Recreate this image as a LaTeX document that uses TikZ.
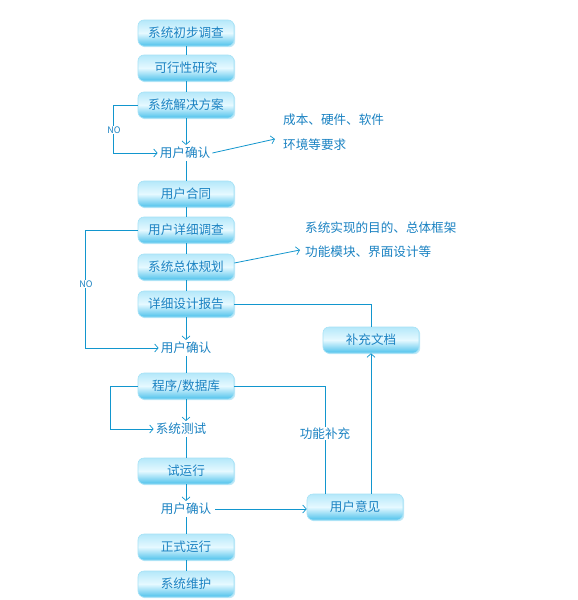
\documentclass[tikz,border=0pt]{standalone}
\usepackage{fontspec}
\setmainfont{Noto Sans CJK SC}
\usetikzlibrary{arrows.meta,shadows}
\definecolor{lnc}{HTML}{1296CE}
\definecolor{txc}{HTML}{1A82C2}
\definecolor{boxtop}{HTML}{B4E8FA}
\definecolor{boxmid}{HTML}{E6F9FF}
\definecolor{boxbot}{HTML}{4EC2EC}
\definecolor{boxedge}{HTML}{A6E2F6}
\tikzset{
  box/.style={rounded corners=6pt, minimum width=96pt, minimum height=26pt, inner sep=0pt,
    draw=boxedge, line width=0.6pt, top color=boxtop, bottom color=boxbot, middle color=boxmid,
    text=txc, font=\fontsize{12.6}{12.6}\selectfont,
    drop shadow={shadow xshift=1.2pt, shadow yshift=-1.2pt, fill=boxbot, opacity=0.35}},
  lbl/.style={text=txc, font=\fontsize{12.6}{12.6}\selectfont, inner sep=2pt},
  note/.style={text=txc, font=\fontsize{12.6}{12.6}\selectfont, inner sep=0pt, anchor=west},
  nolbl/.style={text=txc, font=\fontsize{9}{9}\selectfont, fill=white, inner sep=1pt},
  ln/.style={draw=lnc, line width=0.8pt},
  arr/.style={ln, -{Straight Barb[length=3.5pt,width=8pt,line width=0.7pt]}},
}
\begin{document}
\begin{tikzpicture}[x=1pt,y=-1pt]
\useasboundingbox (0,0) rectangle (578,600);
\fill[white] (0,0) rectangle (578,600);
% main boxes
\node[box] (b1) at (186,33) {系统初步调查};
\node[box] (b2) at (186,68) {可行性研究};
\node[box] (b3) at (186,105) {系统解决方案};
\node[lbl] (c1) at (185,153) {用户确认};
\node[box] (b4) at (186,194) {用户合同};
\node[box] (b5) at (186,230) {用户详细调查};
\node[box] (b6) at (186,267) {系统总体规划};
\node[box] (b7) at (186,304) {详细设计报告};
\node[lbl] (c2) at (186,348) {用户确认};
\node[box] (b8) at (186,386) {程序/数据库};
\node[lbl] (c3) at (181,429) {系统测试};
\node[box] (b9) at (186,471) {试运行};
\node[lbl] (c4) at (186,509) {用户确认};
\node[box] (b10) at (186,547) {正式运行};
\node[box] (b11) at (186,584) {系统维护};
\node[box] (d1) at (371,340) {补充文档};
\node[box] (d2) at (355,507) {用户意见};
% notes
\node[note] (t1) at (283,120) {成本、硬件、软件};
\node[note] (t2) at (283,145) {环境等要求};
\node[note] (t3) at (305,228) {系统实现的目的、总体框架};
\node[note] (t4) at (305,252) {功能模块、界面设计等};
\coordinate (e1) at (275,139);
\coordinate (e2) at (300,250);
% main line
\draw[ln] (b1) -- (b2);
\draw[ln] (b2) -- (b3);
\draw[arr] (b3.south) -- (b3.south |- c1.north);
\draw[ln] (b3.south |- c1.south) -- (b4.north);
\draw[ln] (b4) -- (b5);
\draw[ln] (b5) -- (b6);
\draw[ln] (b6) -- (b7);
\draw[arr] (b7.south) -- (b7.south |- c2.north);
\draw[ln] (b7.south |- c2.south) -- (b8.north);
\draw[arr] (b8.south) -- (b8.south |- c3.north);
\draw[ln] (b8.south |- c3.south) -- (b9.north);
\draw[arr] (b9.south) -- (b9.south |- c4.north);
\draw[ln] (b9.south |- c4.south) -- (b10.north);
\draw[ln] (b10) -- (b11);
% NO loops
\draw[arr] (b3.west) -- ++(-24,0) |- (c1.west);
\node[nolbl] at (114,130) {NO};
\draw[arr] (b5.west) -- ++(-52,0) |- (c2.west);
\node[nolbl] at (86,284) {NO};
\draw[arr] (b8.west) -- ++(-27,0) |- (c3.west);
% notes arrows
\draw[arr] (c1.east) -- (e1);
\draw[arr] (b6.east) ++(0,-4) -- (e2);
% right side
\draw[ln] (b7.east) -| (d1.north);
\draw[arr] (d2.north -| d1.south) -- (d1.south);
\draw[ln] (b8.east) -| ([xshift=-30pt]d2.north) node[pos=0.72, fill=white, text=txc, font=\fontsize{12.6}{12.6}\selectfont, inner sep=1pt] {功能补充};
\draw[arr] ([xshift=2pt]c4.east) -- (c4.east -| d2.west);
\end{tikzpicture}
\end{document}
